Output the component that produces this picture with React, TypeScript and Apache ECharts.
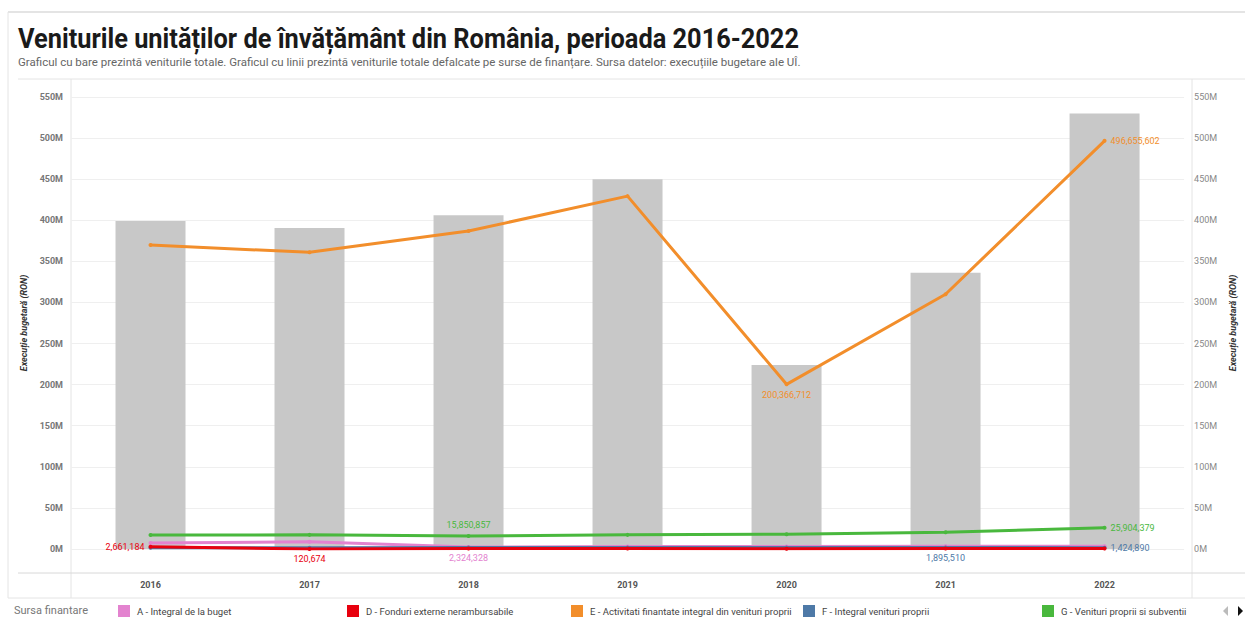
import React, { useEffect, useRef } from "react";
import * as echarts from "echarts";

const years = ["2016", "2017", "2018", "2019", "2020", "2021", "2022"];
const totalValues = [399000000, 390500000, 406000000, 450000000, 224000000, 336000000, 530000000];
const seriesA = [7300000, 8900000, 2324328, 3000000, 3000000, 3300000, 3300000];
const seriesD = [2661184, 120674, 500000, 500000, 400000, 500000, 600000];
const seriesE = [369800000, 361000000, 386900000, 429400000, 200366712, 310000000, 496655602];
const seriesF = [1600000, 1500000, 1700000, 1700000, 1800000, 1895510, 1424890];
const seriesG = [17000000, 17200000, 15850857, 17200000, 18000000, 20300000, 25904379];
const yTicks = [0, 50, 100, 150, 200, 250, 300, 350, 400, 450, 500, 550];

const names = {
  A: "A - Integral de la buget",
  D: "D - Fonduri externe nerambursabile",
  E: "E - Activitati finantate integral din venituri proprii",
  F: "F - Integral venituri proprii",
  G: "G - Venituri proprii si subventii",
};
const colors = { A: "#e383cf", D: "#e8000e", E: "#f28e2b", F: "#4e79a7", G: "#49b83d" };

const FONT = "Roboto, 'DejaVu Sans', sans-serif";

function fmt(v: number) {
  return v.toLocaleString("en-US");
}

function lineData(values: number[], color: string, labels: Record<number, string>) {
  return values.map((v, i) =>
    labels[i]
      ? {
          value: v,
          label: {
            show: true,
            position: labels[i] as any,
            distance: 4,
            color,
            fontSize: 9,
            fontFamily: FONT,
            formatter: (p: any) => fmt(p.value),
          },
        }
      : v
  );
}

export default function App() {
  const ref = useRef<HTMLDivElement>(null);
  useEffect(() => {
    const chart = echarts.init(ref.current!, null, { renderer: "svg" });
    const mkLine = (key: keyof typeof colors, values: number[], labels: Record<number, string>, z: number) => ({
      type: "line",
      name: names[key],
      data: lineData(values, colors[key], labels),
      symbol: "circle",
      symbolSize: 4,
      z,
      itemStyle: { color: colors[key] },
      lineStyle: { width: 3, color: colors[key] },
    });
    const legendPos = [
      { key: "A", left: 118 },
      { key: "D", left: 347 },
      { key: "E", left: 571 },
      { key: "F", left: 803 },
      { key: "G", left: 1042 },
    ];
    const frame = "#e4e4e4";
    chart.setOption({
      animation: false,
      backgroundColor: "#ffffff",
      legend: legendPos.map((l) => ({
        data: [names[l.key as keyof typeof names]],
        left: l.left,
        top: 605,
        padding: 0,
        icon: "rect",
        itemWidth: 12,
        itemHeight: 12,
        itemGap: 6,
        selectedMode: false,
        textStyle: { fontFamily: FONT, fontSize: 9.5, color: "#444", padding: [0, 0, 0, 2] },
      })),
      grid: { left: 71, right: 53, top: 97, bottom: 71, containLabel: false },
      xAxis: {
        type: "category",
        data: years,
        axisLine: { show: false },
        axisTick: { show: false },
        axisLabel: { margin: 31, fontFamily: FONT, fontSize: 9, fontWeight: "bold", color: "#555" },
      },
      yAxis: [
        {
          type: "value",
          min: 0,
          max: 550000000,
          interval: 50000000,
          name: "Execuție bugetară (RON)",
          nameLocation: "middle",
          nameGap: 36,
          nameTextStyle: { fontFamily: FONT, fontSize: 9, fontStyle: "italic", fontWeight: "bold", color: "#333" },
          axisLine: { show: false },
          axisTick: { show: false },
          axisLabel: {
            margin: 8,
            fontFamily: FONT,
            fontSize: 9,
            fontWeight: "bold",
            color: "#777",
            formatter: (v: number) => (yTicks.includes(v / 1000000) ? v / 1000000 + "M" : ""),
          },
          splitLine: { lineStyle: { color: "#efefef", width: 1 } },
        },
        {
          type: "value",
          min: 0,
          max: 550000000,
          interval: 50000000,
          position: "right",
          name: "Execuție bugetară (RON)",
          nameLocation: "middle",
          nameGap: 42,
          nameRotate: 90,
          nameTextStyle: { fontFamily: FONT, fontSize: 9, fontStyle: "italic", fontWeight: "bold", color: "#333" },
          axisLine: { show: false },
          axisTick: { show: false },
          axisLabel: {
            margin: 10,
            fontFamily: FONT,
            fontSize: 9,
            color: "#888",
            formatter: (v: number) => v / 1000000 + "M",
          },
          splitLine: { show: false },
        },
      ],
      series: [
        {
          type: "bar",
          name: "Total",
          data: totalValues,
          barWidth: 70,
          itemStyle: { color: "#c8c8c8" },
          z: 1,
        },
        mkLine("G", seriesG, { 2: "top", 6: "right" }, 3),
        mkLine("E", seriesE, { 4: "bottom", 6: "right" }, 3),
        mkLine("A", seriesA, { 2: "bottom" }, 4),
        mkLine("F", seriesF, { 5: "bottom", 6: "right" }, 5),
        mkLine("D", seriesD, { 0: "left", 1: "bottom" }, 6),
      ],
      graphic: [
        { type: "line", shape: { x1: 8, y1: 12, x2: 1245, y2: 12 }, style: { stroke: frame, lineWidth: 2 } },
        { type: "line", shape: { x1: 8, y1: 12, x2: 8, y2: 598 }, style: { stroke: frame, lineWidth: 1 } },
        { type: "line", shape: { x1: 18, y1: 79, x2: 1245, y2: 79 }, style: { stroke: frame, lineWidth: 1 } },
        { type: "line", shape: { x1: 71, y1: 79, x2: 71, y2: 598 }, style: { stroke: frame, lineWidth: 1 } },
        { type: "line", shape: { x1: 1192, y1: 79, x2: 1192, y2: 598 }, style: { stroke: frame, lineWidth: 1 } },
        { type: "line", shape: { x1: 18, y1: 573, x2: 1245, y2: 573 }, style: { stroke: "#d8d8d8", lineWidth: 1 } },
        { type: "line", shape: { x1: 8, y1: 598, x2: 1245, y2: 598 }, style: { stroke: frame, lineWidth: 1 } },
        {
          type: "text",
          x: 18,
          y: 25,
          scaleX: 0.94,
          style: {
            text: "Veniturile unităților de învățământ din România, perioada 2016-2022",
            fontFamily: FONT,
            fontSize: 27,
            fontWeight: "bold",
            fill: "#1a1a1a",
          },
        },
        {
          type: "text",
          x: 18,
          y: 56,
          style: {
            text:
              "Graficul cu bare prezintă veniturile totale. Graficul cu linii prezintă veniturile totale defalcate pe surse de finanțare. Sursa datelor: execuțiile bugetare ale UÎ.",
            fontFamily: FONT,
            fontSize: 11.5,
            fill: "#666",
          },
        },
        {
          type: "text",
          x: 14,
          y: 605,
          style: { text: "Sursa finantare", fontFamily: FONT, fontSize: 11, fill: "#777" },
        },
        {
          type: "polygon",
          shape: { points: [[1223, 611], [1228, 606], [1228, 616]] },
          style: { fill: "#bbb" },
        },
        {
          type: "polygon",
          shape: { points: [[1238, 606], [1243, 611], [1238, 616]] },
          style: { fill: "#111" },
        },
      ],
    });
    return () => chart.dispose();
  }, []);
  return <div ref={ref} style={{ width: 1245, height: 620, position: "absolute", left: 0, top: 0 }} />;
}
